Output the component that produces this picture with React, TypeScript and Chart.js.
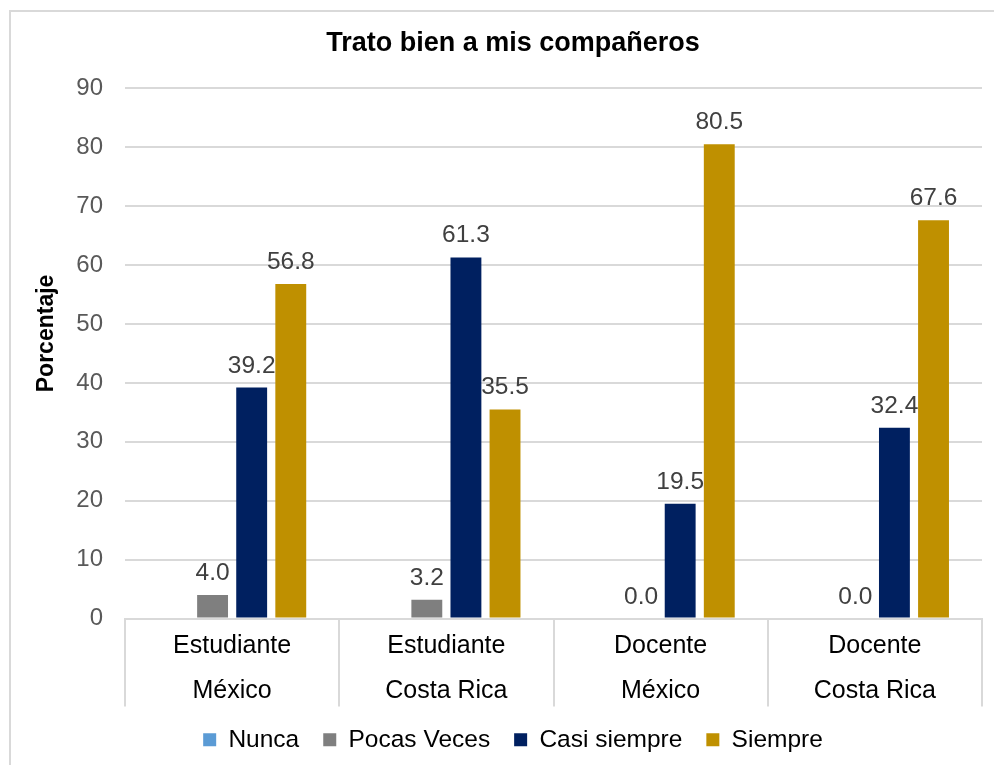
import React, { useEffect, useRef } from "react";
import { Chart, registerables } from "chart.js";

Chart.register(...registerables);

const chartTitle = "Trato bien a mis compañeros";
const yAxisTitle = "Porcentaje";
const categoryLine1 = ["Estudiante", "Estudiante", "Docente", "Docente"];
const categoryLine2 = ["México", "Costa Rica", "México", "Costa Rica"];
const seriesNames = ["Nunca", "Pocas Veces", "Casi siempre", "Siempre"];
const seriesColors = ["#5B9BD5", "#7F7F7F", "#002060", "#BF9000"];
const nunca: (number | null)[] = [null, null, null, null];
const pocasVeces: (number | null)[] = [4.0, 3.2, 0.0, 0.0];
const casiSiempre: (number | null)[] = [39.2, 61.3, 19.5, 32.4];
const siempre: (number | null)[] = [56.8, 35.5, 80.5, 67.6];
const yMin = 0;
const yMax = 90;
const yStep = 10;

const FONT = "'Liberation Sans', Arial, sans-serif";

const valueLabels = {
  id: "valueLabels",
  afterDatasetsDraw(chart: any) {
    const ctx = chart.ctx;
    ctx.save();
    ctx.font = `24.5px ${FONT}`;
    ctx.fillStyle = "#404040";
    ctx.textAlign = "center";
    ctx.textBaseline = "alphabetic";
    chart.data.datasets.forEach((ds: any, di: number) => {
      const meta = chart.getDatasetMeta(di);
      meta.data.forEach((el: any, i: number) => {
        const v = ds.data[i];
        if (v === null || v === undefined) return;
        ctx.fillText(Number(v).toFixed(1), el.x, el.y - 15);
      });
    });
    ctx.restore();
  },
};

const yTitle = {
  id: "yTitle",
  afterDraw(chart: any) {
    const ca = chart.chartArea;
    const ctx = chart.ctx;
    ctx.save();
    ctx.translate(36, (ca.top + ca.bottom) / 2 - 20);
    ctx.rotate(-Math.PI / 2);
    ctx.font = `bold 23px ${FONT}`;
    ctx.fillStyle = "#000";
    ctx.textAlign = "center";
    ctx.textBaseline = "middle";
    ctx.fillText(yAxisTitle, 0, 0);
    ctx.restore();
  },
};

const separators = {
  id: "separators",
  afterDraw(chart: any) {
    const x = chart.scales.x;
    const n = chart.data.labels.length;
    if (n < 1) return;
    const half = n > 1 ? (x.getPixelForValue(1) - x.getPixelForValue(0)) / 2 : (x.right - x.left) / 2;
    const ctx = chart.ctx;
    const top = chart.chartArea.bottom;
    ctx.save();
    ctx.strokeStyle = "#d9d9d9";
    ctx.lineWidth = 2;
    ctx.beginPath();
    for (let i = 0; i <= n; i++) {
      const px = Math.round(x.getPixelForValue(Math.min(i, n - 1)) + (i === n ? half : -half));
      ctx.moveTo(px, top);
      ctx.lineTo(px, top + 88);
    }
    ctx.stroke();
    ctx.restore();
  },
};

export default function App() {
  const ref = useRef<HTMLCanvasElement | null>(null);

  useEffect(() => {
    if (!ref.current) return;
    const labels = categoryLine1.map((l, i) => [l, categoryLine2[i]]);
    const seriesData = [nunca, pocasVeces, casiSiempre, siempre];
    const chart = new Chart(ref.current, {
      type: "bar",
      data: {
        labels,
        datasets: seriesNames.map((name, i) => ({
          label: name,
          data: seriesData[i],
          backgroundColor: seriesColors[i],
          borderWidth: 0,
          categoryPercentage: 0.73,
          barPercentage: 0.79,
        })),
      },
      plugins: [valueLabels, separators, yTitle],
      options: {
        responsive: false,
        animation: false,
        layout: { padding: { left: 33, right: 12, top: 0, bottom: 0 } },
        plugins: {
          title: {
            display: true,
            text: chartTitle,
            color: "#000",
            font: { family: FONT, size: 27, weight: "bold", lineHeight: 1.2 },
            padding: { top: 15, bottom: 29 },
          },
          legend: {
            position: "bottom",
            labels: {
              boxWidth: 13,
              boxHeight: 13,
              padding: 24,
              color: "#000",
              font: { family: FONT, size: 24.5 },
            },
          },
          tooltip: { enabled: false },
        },
        scales: {
          x: {
            grid: { display: false, drawTicks: false },
            border: { display: true, color: "#d9d9d9", width: 2 },
            ticks: {
              color: "#000",
              padding: 5,
              maxRotation: 0,
              autoSkip: false,
              font: { family: FONT, size: 25, lineHeight: 1.8 },
            },
            afterFit(scale: any) {
              scale.height = 85;
            },
          },
          y: {
            min: yMin,
            max: yMax,
            ticks: {
              stepSize: yStep,
              color: "#595959",
              padding: 22,
              font: { family: FONT, size: 24 },
            },
            grid: { color: "#d9d9d9", lineWidth: 2, drawTicks: false },
            border: { display: false },
            afterFit(scale: any) {
              scale.width = 81;
            },
          },
        },
      },
    } as any);
    return () => chart.destroy();
  }, []);

  return (
    <div
      style={{
        position: "fixed",
        left: 0,
        top: 0,
        width: 994,
        height: 765,
        overflow: "hidden",
        background: "#fff",
      }}
    >
      <div
        style={{
          position: "absolute",
          left: 9,
          top: 10,
          width: 1000,
          height: 800,
          borderLeft: "2px solid #d9d9d9",
          borderTop: "2px solid #d9d9d9",
        }}
      />
      <canvas
        ref={ref}
        width={983}
        height={750}
        style={{ position: "absolute", left: 11, top: 12, width: 983, height: 750 }}
      />
    </div>
  );
}
